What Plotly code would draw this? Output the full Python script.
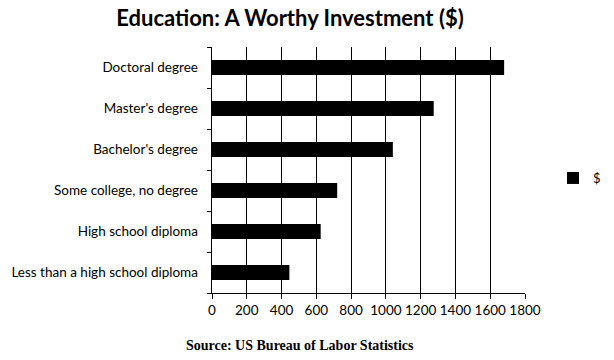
import plotly.graph_objects as go

categories = ["Less than a high school diploma", "High school diploma",
              "Some college, no degree", "Bachelor's degree",
              "Master's degree", "Doctoral degree"]
values = [445, 625, 720, 1040, 1275, 1680]
x_ticks = [0, 200, 400, 600, 800, 1000, 1200, 1400, 1600, 1800]
series_name = "$"

fig = go.Figure()
fig.add_trace(go.Bar(
    y=categories, x=values, orientation="h", name=series_name,
    marker=dict(color="black", line=dict(width=0)), width=0.37,
    showlegend=True,
))

fig.update_layout(
    width=614, height=360,
    margin=dict(l=212, r=89, t=47, b=67),
    paper_bgcolor="white", plot_bgcolor="white",
    title=dict(text="<b>Education: A Worthy Investment ($)</b>",
               xref="container", x=290 / 614, xanchor="center",
               yref="container", y=1 - 18 / 360, yanchor="middle",
               font=dict(family="Lato", size=22, color="black")),
    font=dict(family="Lato", size=13, color="black"),
    xaxis=dict(range=[0, 1800], tickvals=x_ticks, ticktext=[str(v) for v in x_ticks],
               showgrid=True, gridcolor="black", gridwidth=1,
               showline=True, linecolor="black", linewidth=1,
               ticks="outside", ticklen=5, tickcolor="black", tickangle=0,
               automargin=False,
               tickfont=dict(family="Lato", size=13.5, color="black"),
               zeroline=False, fixedrange=True),
    yaxis=dict(categoryorder="array", categoryarray=categories,
               showline=True, linecolor="black", linewidth=1,
               ticks="outside", ticklen=4, tickcolor="black", tickson="boundaries",
               showgrid=False, ticksuffix="   ",
               tickfont=dict(family="Lato", size=13.5, color="black")),
    legend=dict(xref="container", x=553 / 614, yref="container", y=1 - 178 / 360,
                xanchor="left", yanchor="middle",
                font=dict(family="Lato", size=13, color="black"),
                bgcolor="rgba(0,0,0,0)", itemwidth=30),
    annotations=[dict(text="<b>Source: US Bureau of Labor Statistics</b>",
                      xref="paper", yref="paper", x=(300 - 212) / 313, y=-(345 - 293) / 246,
                      xanchor="center", yanchor="middle", showarrow=False,
                      font=dict(family="Liberation Serif", size=14, color="black"))],
)

fig.write_html("out.html")
